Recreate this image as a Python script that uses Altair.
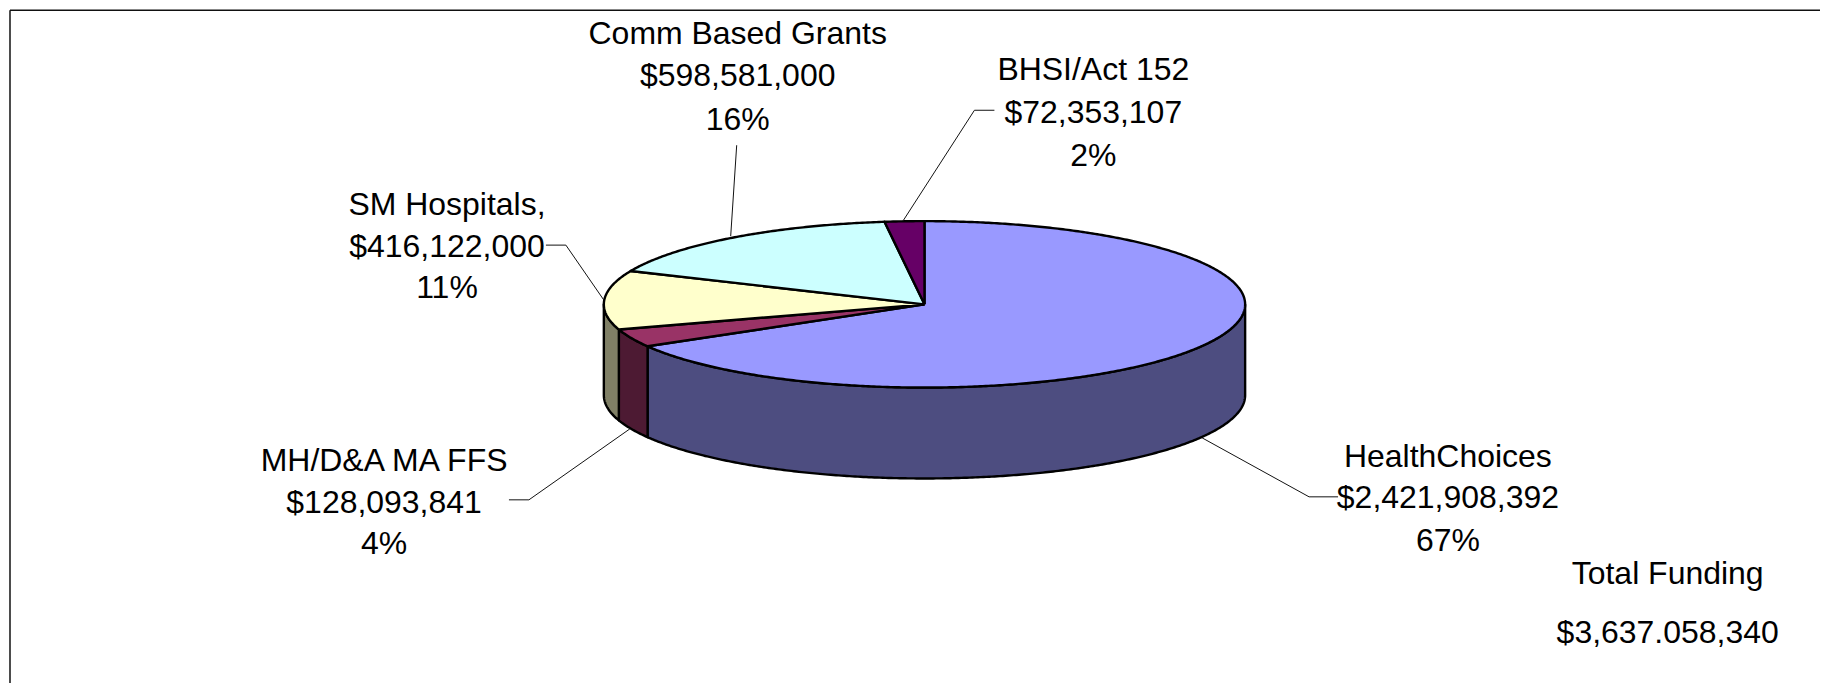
import math
import altair as alt
import pandas as pd

# ---- data ----
categories = ["HealthChoices", "MH/D&A MA FFS", "SM Hospitals", "Comm Based Grants", "BHSI/Act 152"]
funding = [2421908392, 128093841, 416122000, 598581000, 72353107]
amount_labels = ["$2,421,908,392", "$128,093,841", "$416,122,000", "$598,581,000", "$72,353,107"]
pct_labels = ["67%", "4%", "11%", "16%", "2%"]
name_labels = ["HealthChoices", "MH/D&A MA FFS", "SM Hospitals,", "Comm Based Grants", "BHSI/Act 152"]
total_labels = ["Total Funding", "$3,637.058,340"]

# ---- styles and layout ----
top_colors = ["#9999FF", "#993366", "#FFFFCC", "#CCFFFF", "#660066"]
side_colors = ["#4D4D80", "#4D1A33", "#808066", "#668080", "#330033"]
CX, CY, RX, RY, DEPTH = 924.0, 303.3, 321.0, 83.3, 91.0
FONT = "Liberation Sans"
FONT_SIZE = 32
W, H = 1812, 680  # plot area: the frame has no visible right or bottom edge
X0, Y0 = 8.5, 9.0  # page position of the plot origin

label_x = [1448, 383, 446, 737, 1093]
label_baselines = [
    [466, 507, 550],
    [470, 512, 553],
    [214, 256, 297],
    [43, 85, 129],
    [79, 122, 165],
]
total_x, total_y = [1668, 1668], [583, 642]

leaders = [
    [(1202, 437), (1309, 496), (1338, 496)],
    [(629, 428), (528, 499), (508, 499)],
    [(603, 299), (565, 244), (545, 244)],
    [(730, 235), (736, 144)],
    [(903, 219), (974, 109), (994, 109)],
]


def pt(deg, drop=0.0):
    a = math.radians(deg)
    return CX + RX * math.sin(a), CY - RY * math.cos(a) + drop


total = sum(funding)
edges = [0.0]
for v in funding:
    edges.append(edges[-1] + 360.0 * v / total)


def arc(a0, a1):
    n = max(2, int(abs(a1 - a0)) * 2)
    return [a0 + (a1 - a0) * i / n for i in range(n + 1)]


rows = []


def add_poly(name, pts):
    pts = list(pts) + [pts[0]]
    for i, (x, y) in enumerate(pts):
        rows.append({"poly": name, "i": i, "x": x, "y": y})


# walls: only the front half of the cylinder shows (90..270 degrees)
for k in range(5):
    a0, a1 = max(edges[k], 90.0), min(edges[k + 1], 270.0)
    if a1 > a0:
        top = [pt(a) for a in arc(a0, a1)]
        bottom = [pt(a, DEPTH) for a in arc(a1, a0)]
        add_poly("wall-" + categories[k], top + bottom)
# top faces
for k in range(5):
    add_poly("top-" + categories[k], [(CX, CY)] + [pt(a) for a in arc(edges[k], edges[k + 1])])

poly_df = pd.DataFrame(rows)
fills = {}
for k in range(5):
    fills["wall-" + categories[k]] = side_colors[k]
    fills["top-" + categories[k]] = top_colors[k]

xs = alt.Scale(domain=[X0, X0 + W], range=[0, W], nice=False, zero=False)
ys = alt.Scale(domain=[Y0, Y0 + H], range=[0, H], nice=False, zero=False)
X = alt.X("x:Q", scale=xs, axis=None)
Y = alt.Y("y:Q", scale=ys, axis=None)

# frame: only the top and left edges fall inside the window
frame_df = pd.DataFrame(
    {"x": [X0, X0], "x2": [X0 + W, X0], "y": [Y0, Y0], "y2": [Y0, Y0 + H]}
)
frame_layer = (
    alt.Chart(frame_df)
    .mark_rule(stroke="#111111", strokeWidth=1.5)
    .encode(x=X, x2="x2:Q", y=Y, y2="y2:Q")
)

layers = [frame_layer]
for name in poly_df["poly"].unique():
    layers.append(
        alt.Chart(poly_df[poly_df["poly"] == name])
        .mark_line(fill=fills[name], stroke="black", strokeWidth=2.4, strokeJoin="round")
        .encode(x=X, y=Y, order="i:Q")
    )

lead_rows = []
for k, path in enumerate(leaders):
    for i, (x, y) in enumerate(path):
        lead_rows.append({"leader": categories[k], "i": i, "x": x, "y": y})
leader_layer = (
    alt.Chart(pd.DataFrame(lead_rows))
    .mark_line(stroke="#111111", strokeWidth=1)
    .encode(x=X, y=Y, detail="leader:N", order="i:Q")
)

text_rows = []
for k in range(5):
    lines = [name_labels[k], amount_labels[k], pct_labels[k]]
    for t, y in zip(lines, label_baselines[k]):
        text_rows.append({"t": t, "x": label_x[k], "y": y})
for t, x, y in zip(total_labels, total_x, total_y):
    text_rows.append({"t": t, "x": x, "y": y})
text_layer = (
    alt.Chart(pd.DataFrame(text_rows))
    .mark_text(font=FONT, fontSize=FONT_SIZE, align="center", baseline="alphabetic", color="black")
    .encode(x=X, y=Y, text="t:N")
)

chart = (
    alt.layer(*layers, leader_layer, text_layer)
    .properties(width=W, height=H, padding={"left": 1, "top": 1, "right": 0, "bottom": 0}, background="white")
    .configure_view(stroke=None)
)
chart.save("out.html", embed_options={"renderer": "svg", "actions": False})
